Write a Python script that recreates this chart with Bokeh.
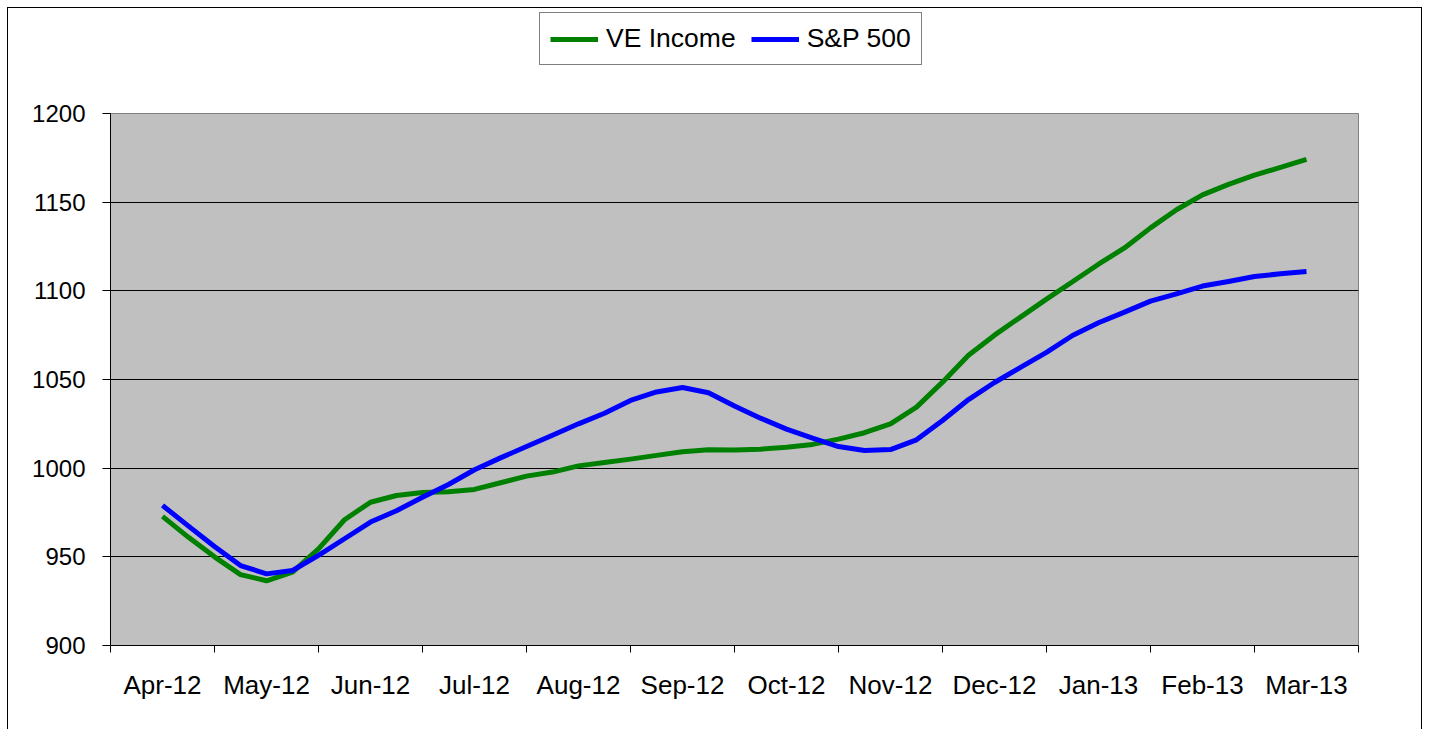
from bokeh.plotting import figure
from bokeh.layouts import column
from bokeh.models import FixedTicker, Legend, Range1d
from bokeh.embed import file_html
from bokeh.resources import INLINE

months = ["Apr-12", "May-12", "Jun-12", "Jul-12", "Aug-12", "Sep-12",
          "Oct-12", "Nov-12", "Dec-12", "Jan-13", "Feb-13", "Mar-13"]

ve_income = [972.8, 961.0, 950.0, 940.0, 936.5, 941.4, 954.5, 970.9, 980.8, 984.6,
             986.3, 986.7, 988.0, 991.8, 995.5, 997.8, 1001.3, 1003.2, 1005.1, 1007.2,
             1009.2, 1010.4, 1010.3, 1010.7, 1011.8, 1013.4, 1016.4, 1020.0, 1025.0, 1034.4,
             1048.5, 1063.7, 1075.0, 1085.2, 1095.3, 1105.1, 1115.0, 1124.2, 1135.5, 1145.7,
             1154.1, 1160.0, 1165.2, 1169.6, 1174.1]

sp500 = [979.0, 967.3, 955.8, 945.1, 940.4, 942.3, 950.8, 960.2, 969.6, 976.0,
         983.6, 990.8, 999.1, 1005.8, 1012.2, 1018.6, 1025.0, 1031.0, 1038.2, 1043.0,
         1045.5, 1042.5, 1035.0, 1028.2, 1022.0, 1016.9, 1012.2, 1010.0, 1010.5, 1016.0,
         1026.9, 1038.7, 1048.3, 1056.8, 1065.3, 1074.8, 1082.0, 1088.0, 1094.2, 1098.3,
         1102.7, 1105.3, 1108.1, 1109.6, 1110.9]

series_names = ["VE Income", "S&P 500"]
series_colors = ["#008000", "#0000FF"]

y_ticks = [900, 950, 1000, 1050, 1100, 1150, 1200]

points_per_month = 4
weeks = list(range(len(ve_income)))
centers = [i * points_per_month for i in range(len(months))]
bounds = [c - points_per_month / 2 for c in centers] + [centers[-1] + points_per_month / 2]

FONT = "Liberation Sans"
W = 1413

# ---------------- legend strip (top of the chart box) ----------------
pl = figure(width=W, height=80, output_backend="svg", toolbar_location=None,
            x_range=Range1d(0, 1), y_range=Range1d(0, 1),
            x_axis_location=None, y_axis_location=None,
            min_border_left=0, min_border_right=0, min_border_top=0, min_border_bottom=0)
pl.grid.visible = False
pl.outline_line_color = None
pl.background_fill_color = "white"
pl.border_fill_color = "white"

# proxy renderers (outside the visible range) that only feed the legend swatches
leg_renderers = [pl.line([-3, -2], [-3, -2], line_color=c, line_width=5) for c in series_colors]

legend = Legend(items=[(n, [r]) for n, r in zip(series_names, leg_renderers)],
                orientation="horizontal", location=(429, 23),
                border_line_color="black", border_line_width=1,
                background_fill_color="white", background_fill_alpha=1.0,
                padding=10, spacing=15, margin=0, glyph_width=48, glyph_height=20,
                label_standoff=8, label_height=27,
                label_text_font=FONT, label_text_font_size="26.5px",
                label_text_color="black")
pl.add_layout(legend)

# ---------------- main chart ----------------
p = figure(width=W, height=641, output_backend="svg", toolbar_location=None,
           x_range=Range1d(bounds[0], bounds[-1]), y_range=Range1d(y_ticks[0], y_ticks[-1]),
           min_border_left=102, min_border_right=63, min_border_top=25, min_border_bottom=84)

p.background_fill_color = "#C0C0C0"
p.border_fill_color = "white"
p.outline_line_color = "#808080"
p.outline_line_width = 1

p.xgrid.visible = False
p.ygrid.grid_line_color = "black"
p.ygrid.grid_line_width = 1

# y axis
p.yaxis.ticker = FixedTicker(ticks=y_ticks)
p.yaxis.major_tick_out = 8
p.yaxis.major_tick_in = 0
p.yaxis.minor_tick_out = 0
p.yaxis.minor_tick_in = 0
p.yaxis.axis_line_color = "black"
p.yaxis.major_tick_line_color = "black"
p.yaxis.major_label_text_font = FONT
p.yaxis.major_label_text_font_size = "24px"
p.yaxis.major_label_text_color = "black"
p.yaxis.major_label_standoff = 17

# x axis: labels at month centres, tick marks at month boundaries
p.xaxis.ticker = FixedTicker(ticks=centers, minor_ticks=bounds)
p.xaxis.major_label_overrides = {c: m for c, m in zip(centers, months)}
p.xaxis.major_tick_out = 0
p.xaxis.major_tick_in = 0
p.xaxis.minor_tick_out = 7
p.xaxis.minor_tick_in = 0
p.xaxis.minor_tick_line_color = "black"
p.xaxis.axis_line_color = "black"
p.xaxis.major_label_text_font = FONT
p.xaxis.major_label_text_font_size = "26px"
p.xaxis.major_label_text_color = "black"
p.xaxis.major_label_standoff = 17

for vals, col in zip([ve_income, sp500], series_colors):
    p.line(weeks, vals, line_color=col, line_width=5, line_join="round")

layout = column(pl, p, spacing=0)
layout.styles = {"margin-left": "7px", "margin-top": "7px",
                 "border-top": "1px solid black", "border-left": "1px solid black",
                 "border-right": "1px solid black"}

open("out.html", "w").write(file_html(layout, INLINE))
